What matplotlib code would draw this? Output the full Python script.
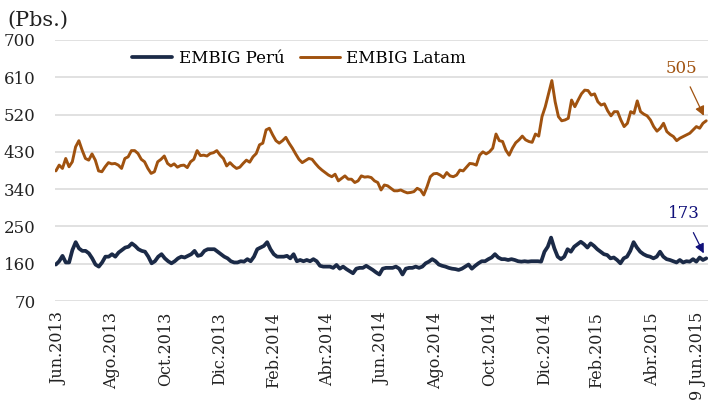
import matplotlib
matplotlib.use("Agg")
import matplotlib.pyplot as plt
import numpy as np
import pandas as pd

# ---- data ----
start_date = "2013-06-03"
end_date = "2015-06-09"

latam = [
    384, 398, 390, 414, 394, 406, 442, 457, 434, 414,
    410, 425, 410, 384, 382, 394, 404, 401, 402,
    398, 390, 414, 418, 433, 433, 426, 412, 406,
    390, 378, 382, 406, 412, 420, 402, 396, 401, 393,
    397, 398, 392, 406, 412, 433, 421, 422, 420, 426,
    428, 433, 422, 414, 396, 404, 396, 390, 393,
    402, 410, 405, 418, 426, 447, 451, 483,
    487, 471, 457, 451, 457, 465, 451, 439, 425, 412,
    404, 409, 414, 412, 402, 393, 386, 380, 374, 370,
    376, 360, 366, 372, 364, 364, 356, 360, 372, 369,
    370, 368, 360, 356, 338, 350, 348, 342, 336, 336,
    338, 334, 331, 332, 334, 342, 338, 326, 346, 370,
    377, 378, 374, 368, 380, 372, 370, 374, 386, 384,
    393, 402, 401, 398, 422, 430,
    425, 430, 439, 473, 457, 455, 434, 422, 439,
    452, 459, 468, 459, 455, 453, 473, 468, 515, 539,
    571, 602, 551, 515, 505, 507, 511, 555, 539, 555,
    570, 579, 578, 567, 570, 551, 543, 546, 529, 517,
    527, 527, 507, 491, 499, 527, 523, 553, 527, 521,
    517, 507, 491, 480, 487, 499, 479, 472, 467,
    457, 463, 467, 471, 475, 483, 491, 487, 499, 505,
]

peru = [
    158, 166, 179, 163, 163, 193, 212, 197, 191, 191,
    185, 173, 158, 153, 163, 177, 177, 183, 177, 187,
    193, 199, 201, 209, 203, 195, 191, 189, 177, 161,
    166, 177, 183, 173, 166, 161, 166, 173, 177, 175,
    179, 183, 191, 179, 181, 191, 195, 195, 195, 189,
    183, 177, 173, 166, 163, 163, 166, 165, 171, 166,
    177, 195, 199, 203, 212, 195, 183, 177, 177, 177,
    179, 173, 183, 166, 169, 166, 169, 166, 171, 166,
    155, 153, 153, 153, 150, 157, 148, 153, 147, 142,
    137, 148, 150, 150, 155, 150, 145, 139,
    134, 148, 150, 150, 150, 153, 148, 134, 148, 150,
    150, 153, 150, 153, 161, 165, 171, 166, 158, 155,
    153, 150, 148, 147, 145, 148, 153, 158, 148, 155,
    161, 166, 166, 171, 175, 183, 175, 171, 171, 169,
    171, 169, 166, 165, 166, 165, 166, 166, 166, 165,
    189, 201, 223, 197, 177, 171, 177, 195, 189, 201,
    207, 213, 207, 199, 209, 203, 195, 189, 183, 181,
    173, 175, 169, 161, 173, 177, 191, 212, 199, 189,
    183, 179, 177, 173, 177, 189, 177, 171, 169, 166,
    163, 169, 163, 166, 165, 171, 165, 175, 169, 173,
]

tick_dates = ["2013-06-06", "2013-08-05", "2013-10-05", "2013-12-05",
              "2014-02-04", "2014-04-07", "2014-06-07", "2014-08-07",
              "2014-10-07", "2014-12-08", "2015-02-05", "2015-04-09",
              "2015-05-30"]
tick_labels = ["Jun.2013", "Ago.2013", "Oct.2013", "Dic.2013", "Feb.2014",
               "Abr.2014", "Jun.2014", "Ago.2014", "Oct.2014", "Dic.2014",
               "Feb.2015", "Abr.2015", "9 Jun.2015"]
y_ticks = [70, 160, 250, 340, 430, 520, 610, 700]

# ---- style ----
plt.rcParams["font.family"] = ["DejaVu Serif"]
c_latam = "#a0520f"
c_peru = "#1b2a47"
c_note = "#10107a"

fig = plt.figure(figsize=(7.13, 4.07), dpi=100)
ax = fig.add_axes([55 / 713, 1 - 301 / 407, 653 / 713, 261 / 407])

x_latam = pd.date_range(start_date, end_date, periods=len(latam))
x_peru = pd.date_range(start_date, end_date, periods=len(peru))

ax.plot(x_peru, peru, color=c_peru, lw=2.7, label="EMBIG Perú", solid_capstyle="round")
ax.plot(x_latam, latam, color=c_latam, lw=2.1, label="EMBIG Latam", solid_capstyle="round")

ax.set_ylim(70, 700)
ax.set_yticks(y_ticks)
ax.set_xlim(pd.Timestamp(start_date) - pd.Timedelta(days=1),
            pd.Timestamp(end_date) + pd.Timedelta(days=2))
ax.set_xticks(pd.to_datetime(tick_dates))
ax.set_xticklabels(tick_labels, rotation=90)
ax.grid(axis="y", color="#d9d9d9", lw=1.1)
ax.set_axisbelow(True)
for s in ax.spines.values():
    s.set_visible(False)
ax.tick_params(axis="y", length=0, labelsize=12, colors="#222222", pad=14)
ax.tick_params(axis="x", length=0, labelsize=11.5, colors="#222222", pad=8)

leg = ax.legend(loc="center", bbox_to_anchor=(0.374, 0.93), ncol=2, frameon=False,
                fontsize=12, handlelength=2.4, columnspacing=0.9, handletextpad=0.4)

ax.annotate(str(latam[-1]), xy=(x_latam[-1], latam[-1]), xytext=(-18, 38),
            textcoords="offset points", ha="center", va="center",
            fontsize=12, color=c_latam,
            arrowprops=dict(arrowstyle="-|>", color=c_latam, lw=0.9,
                            shrinkA=6, shrinkB=4, mutation_scale=14))
ax.annotate(str(peru[-1]), xy=(x_peru[-1], peru[-1]), xytext=(-16, 32),
            textcoords="offset points", ha="center", va="center",
            fontsize=12, color=c_note,
            arrowprops=dict(arrowstyle="-|>", color=c_note, lw=0.9,
                            shrinkA=6, shrinkB=4, mutation_scale=14))

fig.text(0.011, 0.951, "(Pbs.)", fontsize=15, va="center", ha="left", color="#222222")

fig.savefig("out.png", dpi=100)
